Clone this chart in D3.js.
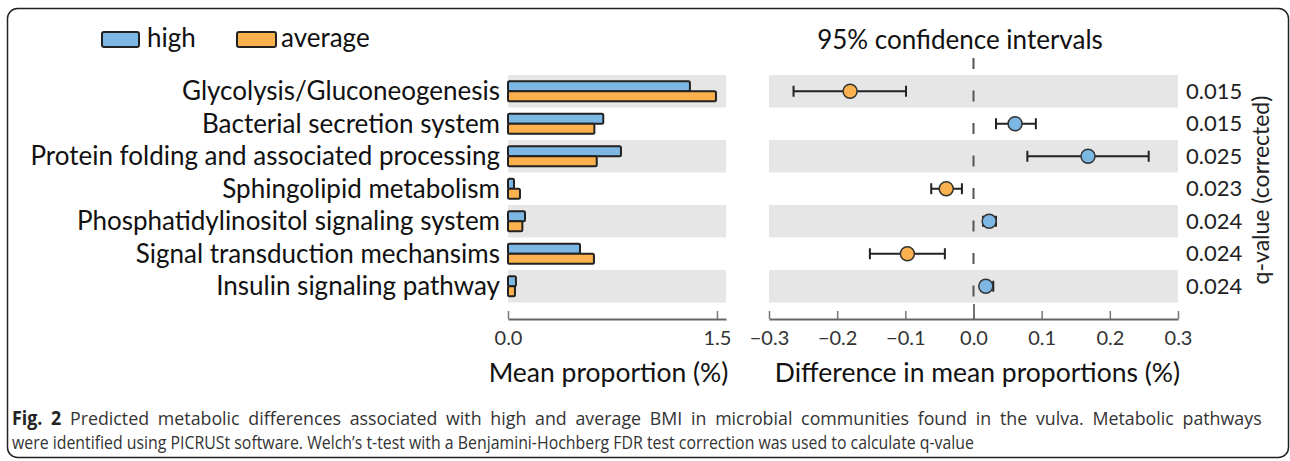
<!DOCTYPE html>
<html><head><meta charset="utf-8">
<script src="https://cdn.jsdelivr.net/npm/d3@7"></script>
<style>body{margin:0;background:#fff;} svg{display:block}</style>
</head><body>
<svg id="c" width="1290" height="461"></svg>
<script>
const categories = ["Glycolysis/Gluconeogenesis","Bacterial secretion system","Protein folding and associated processing","Sphingolipid metabolism","Phosphatidylinositol signaling system","Signal transduction mechansims","Insulin signaling pathway"];
const highMean = [1.306, 0.684, 0.811, 0.043, 0.122, 0.517, 0.057];
const averageMean = [1.493, 0.620, 0.637, 0.086, 0.103, 0.617, 0.050];
const diffValue = [-0.181, 0.061, 0.168, -0.040, 0.023, -0.097, 0.018];
const ciLow = [-0.264, 0.033, 0.079, -0.062, 0.014, -0.152, 0.011];
const ciHigh = [-0.099, 0.0915, 0.257, -0.017, 0.033, -0.042, 0.029];
const qValues = ["0.015","0.015","0.025","0.023","0.024","0.024","0.024"];
const leftTicks = [0, 1.5];
const rightTicks = [-0.3, -0.2, -0.1, 0, 0.1, 0.2, 0.3];
const seriesNames = ["high", "average"];
const colors = {high: "#7db7e3", average: "#fbb24e"};

const svg = d3.select("#c");
const FONT = "Lato, 'Open Sans', sans-serif";

// frame
svg.append("rect").attr("x", 7.5).attr("y", 8.5).attr("width", 1281).attr("height", 449)
  .attr("rx", 10).attr("fill", "none").attr("stroke", "#222").attr("stroke-width", 1.5);

const y = d3.scaleBand().domain(categories).range([75, 302.5]);
const xL = d3.scaleLinear().domain([0, 1.565]).range([508, 726]);
const xR = d3.scaleLinear().domain([-0.3, 0.3]).range([769, 1178]);
const rows = categories.map((c, i) => ({c, i, high: highMean[i], average: averageMean[i], d: diffValue[i], lo: ciLow[i], hi: ciHigh[i], q: qValues[i]}));

// backgrounds
const bgRows = rows.filter(r => r.i % 2 === 0);
svg.append("g").selectAll("rect").data(bgRows).join("rect")
  .attr("x", xL.range()[0]).attr("width", xL.range()[1] - xL.range()[0])
  .attr("y", r => y(r.c)).attr("height", y.bandwidth()).attr("fill", "#e6e6e6");
svg.append("g").selectAll("rect").data(bgRows).join("rect")
  .attr("x", xR.range()[0]).attr("width", xR.range()[1] - xR.range()[0])
  .attr("y", r => y(r.c)).attr("height", y.bandwidth()).attr("fill", "#e6e6e6");

// labels
svg.append("g").selectAll("text").data(rows).join("text")
  .attr("x", 500).attr("y", r => y(r.c) + y.bandwidth() / 2).attr("dy", "0.35em")
  .attr("text-anchor", "end").attr("font-family", FONT).attr("font-size", 26).attr("fill", "#111")
  .text(r => r.c);

// bars
const barH = 10;
const gb = svg.append("g");
gb.selectAll("rect.h").data(rows).join("rect").attr("class", "h")
  .attr("x", xL(0)).attr("width", r => xL(r.high) - xL(0))
  .attr("y", r => y(r.c) + y.bandwidth() / 2 - barH).attr("height", barH)
  .attr("rx", 1.5).attr("fill", colors.high).attr("stroke", "#222").attr("stroke-width", 2);
gb.selectAll("rect.a").data(rows).join("rect").attr("class", "a")
  .attr("x", xL(0)).attr("width", r => xL(r.average) - xL(0))
  .attr("y", r => y(r.c) + y.bandwidth() / 2).attr("height", barH)
  .attr("rx", 1.5).attr("fill", colors.average).attr("stroke", "#222").attr("stroke-width", 2);

// axes
function styleAxis(g) {
  g.select(".domain").attr("stroke", "#666").attr("stroke-width", 2);
  g.selectAll(".tick line").attr("stroke", "#777").attr("stroke-width", 1.5);
  g.selectAll(".tick text").attr("font-family", FONT).attr("font-size", 20).attr("fill", "#333");
}
const axL = svg.append("g").attr("transform", "translate(0,319)")
  .call(d3.axisBottom(xL).tickValues(leftTicks).tickSize(-8).tickSizeOuter(0).tickPadding(12).tickFormat(d3.format(".1f")));
styleAxis(axL);
const axR = svg.append("g").attr("transform", "translate(0,319)")
  .call(d3.axisBottom(xR).tickValues(rightTicks).tickSize(-8).tickSizeOuter(0).tickPadding(12).tickFormat(d3.format(".1f")));
styleAxis(axR);
axR.selectAll(".tick").filter(d => d === 0).select("line").attr("y2", -15).attr("stroke", "#444");

// zero dashed line
svg.append("line").attr("x1", xR(0)).attr("x2", xR(0)).attr("y1", 58).attr("y2", 302)
  .attr("stroke", "#555").attr("stroke-width", 2).attr("stroke-dasharray", "11 21.5");

// CI
const gc = svg.append("g");
const cy = r => y(r.c) + y.bandwidth() / 2;
gc.selectAll("line.ci").data(rows).join("line").attr("class", "ci")
  .attr("x1", r => xR(r.lo)).attr("x2", r => xR(r.hi)).attr("y1", cy).attr("y2", cy)
  .attr("stroke", "#222").attr("stroke-width", 2);
["lo", "hi"].forEach(k => {
  gc.selectAll("line.cap" + k).data(rows).join("line").attr("class", "cap" + k)
    .attr("x1", r => xR(r[k])).attr("x2", r => xR(r[k])).attr("y1", r => cy(r) - 5.5).attr("y2", r => cy(r) + 5.5)
    .attr("stroke", "#222").attr("stroke-width", 2);
});
gc.selectAll("circle").data(rows).join("circle")
  .attr("cx", r => xR(r.d)).attr("cy", cy).attr("r", 7)
  .attr("fill", r => r.d >= 0 ? colors.high : colors.average).attr("stroke", "#333").attr("stroke-width", 1.5);

// q values
svg.append("g").selectAll("text").data(rows).join("text")
  .attr("x", 1186).attr("y", cy).attr("dy", "0.35em")
  .attr("font-family", FONT).attr("font-size", 22).attr("fill", "#222").text(r => r.q);
svg.append("text").attr("transform", "translate(1261,190) rotate(-90)")
  .attr("text-anchor", "middle").attr("dy", "0.35em")
  .attr("font-family", FONT).attr("font-size", 23).attr("fill", "#222").text("q-value (corrected)");

// title
svg.append("text").attr("x", 960).attr("y", 49).attr("text-anchor", "middle")
  .attr("font-family", FONT).attr("font-size", 26).attr("fill", "#111").text("95% confidence intervals");

// axis titles
svg.append("text").attr("x", 608.5).attr("y", 382).attr("text-anchor", "middle")
  .attr("font-family", FONT).attr("font-size", 26.5).attr("fill", "#111").text("Mean proportion (%)");
svg.append("text").attr("x", 977.5).attr("y", 382).attr("text-anchor", "middle")
  .attr("font-family", FONT).attr("font-size", 26.5).attr("fill", "#111").text("Difference in mean proportions (%)");

// legend
const lg = svg.append("g");
const legendPos = [{x: 102, w: 37, tx: 147}, {x: 237, w: 39, tx: 281}];
seriesNames.forEach((s, i) => {
  const p = legendPos[i];
  lg.append("rect").attr("x", p.x).attr("y", 32).attr("width", p.w).attr("height", 15).attr("rx", 2)
    .attr("fill", colors[s]).attr("stroke", "#222").attr("stroke-width", 2);
  lg.append("text").attr("x", p.tx).attr("y", 47).attr("font-family", FONT).attr("font-size", 26)
    .attr("fill", "#111").text(s);
});

// caption (each line scaled horizontally with a transform to fit its width)
const CF = "'Open Sans', 'Noto Sans', sans-serif";
const g2 = svg.append("g");
const c2 = g2.append("text").attr("x", 0).attr("y", 449).attr("font-family", CF).attr("font-size", 19).attr("fill", "#333")
  .text("were identified using PICRUSt software. Welch’s t-test with a Benjamini-Hochberg FDR test correction was used to calculate q-value");
const w2 = c2.node().getComputedTextLength();
const f2 = 962 / w2;
g2.attr("transform", `translate(12,0) scale(${f2},1)`);
const g1 = svg.append("g");
const c1 = g1.append("text").attr("x", 0).attr("y", 425).attr("font-family", CF).attr("font-size", 19).attr("fill", "#333");
c1.append("tspan").attr("font-weight", "bold").attr("fill", "#222").text("Fig. 2");
c1.append("tspan").text(" Predicted metabolic differences associated with high and average BMI in microbial communities found in the vulva. Metabolic pathways");
const w1 = c1.node().getComputedTextLength();
const f1 = Math.min(1, (f2 + 1250 / w1) / 2 + 0.02);
const ws = Math.max(0, (1250 / f1 - w1) / 19);
c1.attr("word-spacing", ws);
g1.attr("transform", `translate(12,0) scale(${f1},1)`);
</script>
</body></html>
